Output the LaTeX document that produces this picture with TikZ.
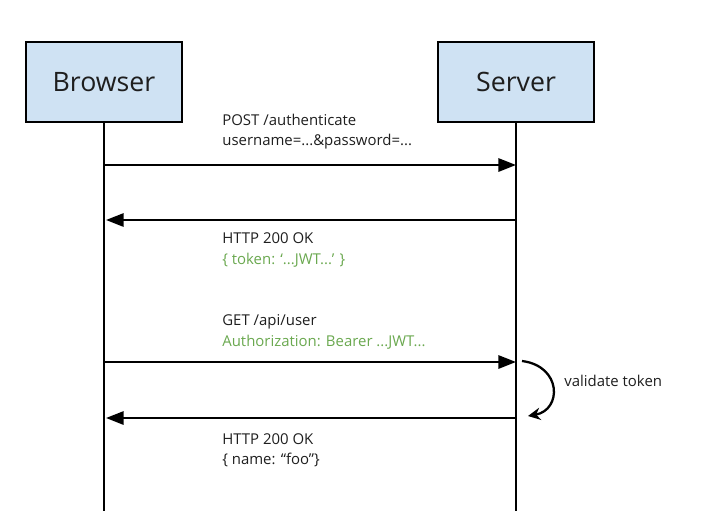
\documentclass[tikz,border=0pt]{standalone}
\usepackage{fontspec}
\setmainfont{Open Sans}
\usetikzlibrary{arrows.meta}
\definecolor{seqBlue}{HTML}{CFE2F3}
\definecolor{seqGreen}{HTML}{6AA84F}
\definecolor{seqInk}{HTML}{1E1E1E}
\tikzset{
  seq actor/.style={draw=black, fill=seqBlue, line width=1.5pt, minimum width=3.12cm, minimum height=1.6cm, inner sep=0pt, font=\fontsize{15.2}{18}\selectfont, text=seqInk},
  seq life/.style={draw=black, line width=1.3pt},
  seq msg/.style={draw=black, line width=1.3pt, -{Triangle[length=10pt,width=7.5pt]}},
  seq label/.style={anchor=west, align=left, inner sep=0pt, font=\fontsize{8.5}{11.5}\selectfont, text=seqInk},
  seq loop/.style={draw=black, line width=1.3pt, -{Stealth[length=7pt,width=7pt]}},
}

\begin{document}
\begin{tikzpicture}[x=0.02cm,y=-0.02cm]
  \useasboundingbox (0,0) rectangle (705,511);
  % actors and lifelines
  \node[seq actor] (browser) at (104,82) {Browser};
  \node[seq actor] (server) at (516,82) {Server};
  \coordinate (browser end) at (104,511);
  \coordinate (server end) at (516,511);
  \draw[seq life] (browser.south) -- (browser end);
  \draw[seq life] (server.south) -- (server end);
  % points on the lifelines
  \coordinate (b1) at (104,165);  \coordinate (s1) at (516,165);
  \coordinate (b2) at (106,220);  \coordinate (s2) at (516,220);
  \coordinate (b3) at (104,362);  \coordinate (s3) at (516,362);
  \coordinate (b4) at (106,418);  \coordinate (s4) at (516,418);
  % messages
  \draw[seq msg] (b1) -- (s1);
  \draw[seq msg] (s2) -- (b2);
  \draw[seq msg] (b3) -- (s3);
  \draw[seq msg] (s4) -- (b4);
  \node[seq label] (post) at (222,132) {POST /authenticate\\username=...\&password=...};
  \node[seq label] (ok1) at (222,250) {HTTP 200 OK\\\textcolor{seqGreen}{\{ token: ‘...JWT...’ \}}};
  \node[seq label] (get) at (222,332) {GET /api/user\\\textcolor{seqGreen}{Authorization: Bearer ...JWT...}};
  \node[seq label] (ok2) at (222,450) {HTTP 200 OK\\\{ name: “foo”\}};
  % token check on the server
  \coordinate (loop start) at (522,361);
  \coordinate (loop end) at (528,416);
  \draw[seq loop] (loop start) .. controls (562,366) and (562,410) .. (loop end);
  \node[seq label] (check) at (564,381) {validate token};
\end{tikzpicture}
\end{document}
